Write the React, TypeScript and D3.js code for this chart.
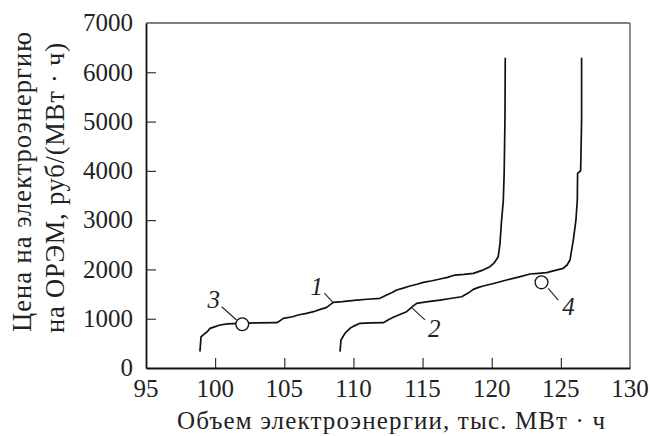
import React, { useEffect, useRef } from 'react';
import * as d3 from 'd3';

// curve 1 (x: тыс. МВт·ч, y: руб/(МВт·ч))
const curve1X = [98.9, 98.98, 99.1, 99.27, 99.45, 99.63, 99.9, 100.35, 100.9, 101.8, 103.0, 104.45, 104.7, 104.93, 105.6, 106.0, 106.6, 107.2, 107.6, 108.07, 108.3, 108.54, 109.2, 110.23, 111.0, 111.92, 112.4, 112.8, 113.13, 113.6, 114.09, 114.6, 115.05, 115.7, 116.26, 116.8, 117.34, 118.0, 118.67, 119.3, 119.87, 120.2, 120.47, 120.6, 120.7, 120.84, 120.9, 120.96, 120.98];
const curve1Y = [331, 636, 660, 703, 740, 805, 830, 872, 895, 906, 915, 920, 960, 1008, 1040, 1075, 1109, 1150, 1190, 1231, 1280, 1332, 1345, 1379, 1395, 1413, 1481, 1530, 1582, 1620, 1663, 1700, 1738, 1770, 1805, 1840, 1886, 1900, 1920, 1980, 2055, 2140, 2258, 2529, 2950, 3408, 3949, 5097, 6294];

// curve 2
const curve2X = [109.03, 109.1, 109.25, 109.39, 109.55, 109.75, 110.1, 110.47, 111.3, 112.16, 112.5, 112.88, 113.4, 113.85, 114.2, 114.57, 115.4, 116.26, 117.0, 117.83, 118.3, 118.67, 119.0, 119.39, 120.2, 121.08, 122.0, 122.77, 123.4, 123.97, 124.6, 125.17, 125.45, 125.66, 125.9, 126.09, 126.19, 126.21, 126.43, 126.5, 126.5];
const curve2Y = [331, 568, 640, 703, 750, 805, 860, 906, 915, 920, 975, 1028, 1090, 1142, 1230, 1312, 1345, 1379, 1410, 1446, 1520, 1596, 1630, 1663, 1720, 1785, 1850, 1907, 1920, 1934, 1980, 2021, 2090, 2191, 2596, 3002, 3408, 3949, 4002, 5010, 6294];

const xTicks = [95, 100, 105, 110, 115, 120, 125, 130];
const yTicks = [0, 1000, 2000, 3000, 4000, 5000, 6000, 7000];

const xLabel = 'Объем электроэнергии, тыс. МВт · ч';
const yLabel1 = 'Цена на электроэнергию';
const yLabel2 = 'на ОРЭМ, руб/(МВт · ч)';

const App = () => {
    const svgRef = useRef(null);

    useEffect(() => {
        const width = 651;
        const height = 436;
        const left = 146, right = 630, top = 23, bottom = 368;
        const font = "'Liberation Serif', 'Times New Roman', serif";

        const svg = d3.select(svgRef.current);
        svg.selectAll('*').remove();
        svg.attr('width', width).attr('height', height)
            .style('font-family', font);

        const x = d3.scaleLinear().domain([95, 130]).range([left, right]);
        const y = d3.scaleLinear().domain([0, 7000]).range([bottom, top]);

        // frame: top and right lighter
        svg.append('line')
            .attr('x1', left).attr('x2', right).attr('y1', top).attr('y2', top)
            .attr('stroke', '#555').attr('stroke-width', 1.3);
        svg.append('line')
            .attr('x1', right).attr('x2', right).attr('y1', top).attr('y2', bottom)
            .attr('stroke', '#555').attr('stroke-width', 1.3);

        // x axis (ticks inside, labels drawn separately)
        const xAxis = svg.append('g')
            .attr('transform', `translate(0,${bottom})`)
            .call(d3.axisBottom(x).tickValues(xTicks.slice(1, -1)).tickFormat(() => '')
                .tickSizeInner(-10).tickSizeOuter(0));
        xAxis.select('.domain').attr('stroke', '#111').attr('stroke-width', 1.8);
        xAxis.selectAll('.tick line').attr('stroke', '#222').attr('stroke-width', 1.1);

        svg.append('g').selectAll('text')
            .data(xTicks)
            .enter().append('text')
            .attr('x', d => x(d))
            .attr('y', bottom + 29)
            .attr('text-anchor', 'middle')
            .style('font-family', font)
            .attr('font-size', 25).attr('fill', '#222')
            .text(d => d);

        // y axis
        const yAxis = svg.append('g')
            .attr('transform', `translate(${left},0)`)
            .call(d3.axisLeft(y).tickValues(yTicks.slice(1, -1)).tickFormat(() => '')
                .tickSizeInner(-10).tickSizeOuter(0));
        yAxis.select('.domain').attr('stroke', '#111').attr('stroke-width', 1.8);
        yAxis.selectAll('.tick line').attr('stroke', '#222').attr('stroke-width', 1.1);

        svg.append('g').selectAll('text')
            .data(yTicks)
            .enter().append('text')
            .attr('x', left - 13)
            .attr('y', d => y(d))
            .attr('dy', '0.33em')
            .attr('text-anchor', 'end')
            .style('font-family', font)
            .attr('font-size', 25).attr('fill', '#222')
            .text(d => d);

        // curves
        const line = d3.line()
            .x(d => x(d[0]))
            .y(d => y(d[1]));
        const series = [
            curve1X.map((v, i) => [v, curve1Y[i]]),
            curve2X.map((v, i) => [v, curve2Y[i]]),
        ];
        series.forEach(s => {
            svg.append('path')
                .datum(s)
                .attr('d', line)
                .attr('fill', 'none')
                .attr('stroke', '#111')
                .attr('stroke-width', 1.7)
                .attr('stroke-linejoin', 'round');
        });

        // circle markers
        const markers = [
            { cx: 101.96, cy: 888 },
            { cx: 123.6, cy: 1738 },
        ];
        svg.selectAll('.marker')
            .data(markers)
            .enter().append('circle')
            .attr('cx', d => x(d.cx))
            .attr('cy', d => y(d.cy))
            .attr('r', 6.4)
            .attr('fill', 'white')
            .attr('stroke', '#111')
            .attr('stroke-width', 1.3);

        // curve labels with leader lines
        const labels = [
            { t: '1', tx: 106.9, ty: 1480, x1: 107.9, y1: 1521, x2: 108.5, y2: 1339 },
            { t: '2', tx: 115.4, ty: 630, x1: 115.17, y1: 975, x2: 114.2, y2: 1231 },
            { t: '3', tx: 99.45, ty: 1217, x1: 100.47, y1: 1243, x2: 101.55, y2: 974 },
            { t: '4', tx: 125.1, ty: 1075, x1: 124.09, y1: 1616, x2: 124.81, y2: 1379 },
        ];
        labels.forEach(l => {
            svg.append('line')
                .attr('x1', x(l.x1)).attr('y1', y(l.y1))
                .attr('x2', x(l.x2)).attr('y2', y(l.y2))
                .attr('stroke', '#222').attr('stroke-width', 1.1);
            svg.append('text')
                .attr('x', x(l.tx)).attr('y', y(l.ty))
                .style('font-family', font).attr('font-style', 'italic')
                .attr('font-size', 25).attr('fill', '#222')
                .text(l.t);
        });

        // axis titles
        svg.append('text')
            .attr('x', 391).attr('y', 429)
            .attr('text-anchor', 'middle')
            .style('font-family', font).attr('font-size', 25).attr('fill', '#222')
            .attr('textLength', 428).attr('lengthAdjust', 'spacing')
            .text(xLabel);

        svg.append('text')
            .attr('transform', 'translate(31,182) rotate(-90)')
            .attr('text-anchor', 'middle')
            .style('font-family', font).attr('font-size', 26.5).attr('fill', '#222')
            .attr('textLength', 300).attr('lengthAdjust', 'spacing')
            .text(yLabel1);
        svg.append('text')
            .attr('transform', 'translate(64,188) rotate(-90)')
            .attr('text-anchor', 'middle')
            .style('font-family', font).attr('font-size', 26.5).attr('fill', '#222')
            .attr('textLength', 290).attr('lengthAdjust', 'spacing')
            .text(yLabel2);
    }, []);

    return (
        <svg ref={svgRef} style={{ position: 'absolute', left: 0, top: 0, background: 'white' }}></svg>
    );
};

export default App;
